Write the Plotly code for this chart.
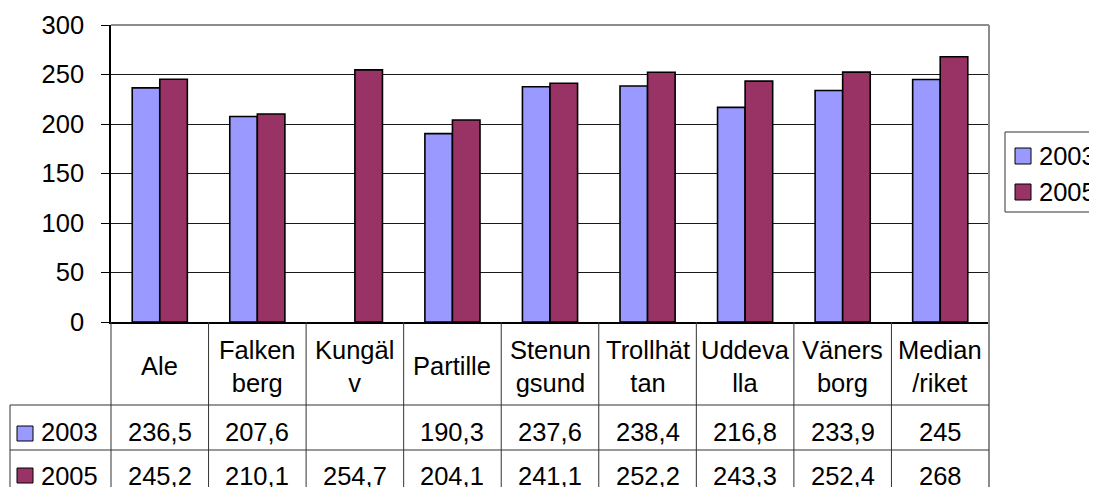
import plotly.graph_objects as go

# ---- data ----
categories = ["Ale", "Falkenberg", "Kungälv", "Partille", "Stenungsund",
              "Trollhättan", "Uddevalla", "Vänersborg", "Median/riket"]
header_labels = ["Ale", "Falken<br>berg", "Kungäl<br>v", "Partille", "Stenun<br>gsund",
                 "Trollhät<br>tan", "Uddeva<br>lla", "Väners<br>borg", "Median<br>/riket"]
series_names = ["2003", "2005"]
values_2003 = [236.5, 207.6, None, 190.3, 237.6, 238.4, 216.8, 233.9, 245]
values_2005 = [245.2, 210.1, 254.7, 204.1, 241.1, 252.2, 243.3, 252.4, 268]
y_ticks = [0, 50, 100, 150, 200, 250, 300]

colors = ["#9999FF", "#993366"]
FONT = "Liberation Sans, Arial, sans-serif"
FS = 25.5

OFF = 8  # page body margin
W, H = 1097, 487
# desired plot area in screen pixels: x 111..989, y 25..322
SX0, SX1, SY0, SY1 = 111, 989, 25, 322
L = SX0 - OFF
T = SY0 - OFF
R = W - (SX1 - OFF)
B = H - (SY1 - OFF)
PW = SX1 - SX0
PH = SY1 - SY0


def px_x(p):
    return (p - SX0) / PW


def px_y(p):
    return (SY1 - p) / PH


def fmt(v):
    if v is None:
        return ""
    return ("%g" % v).replace(".", ",")


fig = go.Figure()
for name, vals, col in zip(series_names, [values_2003, values_2005], colors):
    fig.add_trace(go.Bar(
        x=categories, y=vals, name=name, showlegend=False,
        marker=dict(color=col, line=dict(color="black", width=1.6)),
    ))

shapes = []
annotations = []
ncat = len(categories)
bottom = px_y(520)
GRAY = "#8c8c8c"
DARK = "#333333"

# plot area border (gray) top & right, right continued down through table
shapes.append(dict(type="line", xref="paper", yref="paper", x0=0, x1=1, y0=1, y1=1,
                   line=dict(color=GRAY, width=2)))
shapes.append(dict(type="line", xref="paper", yref="paper", x0=1, x1=1, y0=1, y1=bottom,
                   line=dict(color=GRAY, width=2)))
# left axis continuation into the table
shapes.append(dict(type="line", xref="paper", yref="paper", x0=0, x1=0, y0=0, y1=bottom,
                   line=dict(color=DARK, width=1)))
# column separators
for i in range(1, ncat):
    xp = i / ncat
    shapes.append(dict(type="line", xref="paper", yref="paper", x0=xp, x1=xp, y0=0, y1=bottom,
                       line=dict(color=DARK, width=1)))
# row lines
for yp in [405, 450]:
    shapes.append(dict(type="line", xref="paper", yref="paper", x0=px_x(10), x1=1,
                       y0=px_y(yp), y1=px_y(yp), line=dict(color=DARK, width=1)))
# table left border
shapes.append(dict(type="line", xref="paper", yref="paper", x0=px_x(10), x1=px_x(10),
                   y0=px_y(405), y1=bottom, line=dict(color=DARK, width=1)))

# header labels
for c, lab in zip(categories, header_labels):
    annotations.append(dict(x=c, xref="x", y=px_y(366), yref="paper", text=lab,
                            showarrow=False, xanchor="center", yanchor="middle",
                            font=dict(family=FONT, size=FS, color="black")))

row_centers = [432, 476]
key_boxes = [(426, 441), (468, 483)]
for name, vals, col, yc, (k0, k1) in zip(series_names, [values_2003, values_2005], colors,
                                         row_centers, key_boxes):
    shapes.append(dict(type="rect", xref="paper", yref="paper", x0=px_x(17), x1=px_x(33),
                       y0=px_y(k1), y1=px_y(k0), fillcolor=col,
                       line=dict(color="black", width=1)))
    annotations.append(dict(x=px_x(39), xref="paper", y=px_y(yc), yref="paper", text=name,
                            showarrow=False, xanchor="left", yanchor="middle",
                            font=dict(family=FONT, size=FS, color="black")))
    for c, v in zip(categories, vals):
        annotations.append(dict(x=c, xref="x", y=px_y(yc), yref="paper", text=fmt(v),
                                showarrow=False, xanchor="center", yanchor="middle",
                                font=dict(family=FONT, size=FS, color="black")))

# legend (drawn as box + keys + texts)
shapes.append(dict(type="rect", xref="paper", yref="paper", x0=px_x(1005), x1=px_x(1120),
                   y0=px_y(212), y1=px_y(132), fillcolor="white",
                   line=dict(color=DARK, width=1)))
leg_centers = [156, 192]
for name, col, yc in zip(series_names, colors, leg_centers):
    shapes.append(dict(type="rect", xref="paper", yref="paper", x0=px_x(1015), x1=px_x(1031),
                       y0=px_y(yc + 8), y1=px_y(yc - 8), fillcolor=col,
                       line=dict(color="black", width=1)))
    annotations.append(dict(x=px_x(1037), xref="paper", y=px_y(yc), yref="paper", text=name,
                            showarrow=False, xanchor="left", yanchor="middle",
                            font=dict(family=FONT, size=FS, color="black")))

fig.update_layout(
    width=W, height=H,
    margin=dict(l=L, r=R, t=T, b=B, autoexpand=False),
    paper_bgcolor="white", plot_bgcolor="white",
    barmode="group", bargap=0.435, bargroupgap=0,
    font=dict(family=FONT, size=FS, color="black"),
    showlegend=False,
    xaxis=dict(type="category", range=[-0.5, ncat - 0.5], showticklabels=False,
               showline=True, linecolor="black", linewidth=2, ticks="",
               showgrid=False, zeroline=False, fixedrange=True),
    yaxis=dict(range=[0, 300], tickvals=y_ticks, ticks="outside", ticklen=8,
               tickcolor="black", showline=True, linecolor="black", linewidth=1.5,
               showgrid=True, gridcolor="#1a1a1a", gridwidth=1, zeroline=False,
               automargin=False, ticklabelstandoff=12,
               tickfont=dict(family=FONT, size=FS, color="black")),
    shapes=shapes,
    annotations=annotations,
)

fig.write_html("out.html")
